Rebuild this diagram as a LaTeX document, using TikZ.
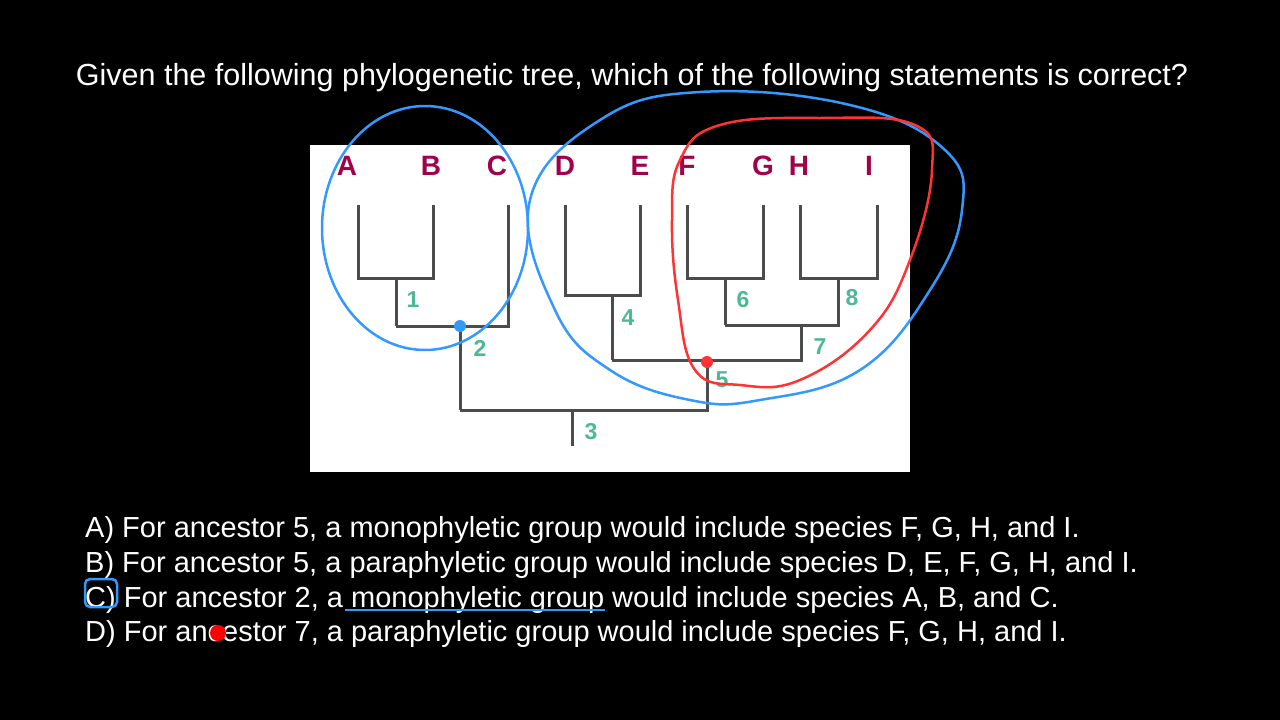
\documentclass[tikz,border=0pt]{standalone}
\usepackage{fontspec}
\setmainfont{Liberation Sans}
\definecolor{spc}{HTML}{A3004A}
\definecolor{ndc}{HTML}{4DB896}
\begin{document}
\begin{tikzpicture}[x=1pt,y=-1pt,
  br/.style={draw=gray!60!black,line width=3pt},
  sp/.style={text=spc,font=\fontsize{28}{30}\selectfont\bfseries},
  nd/.style={text=ndc,font=\fontsize{23}{24}\selectfont\bfseries},
  txt/.style={text=white,anchor=west,font=\fontsize{29}{32}\selectfont,inner sep=0},
  blu/.style={draw=blue!50!cyan!80!white,line width=2.5pt},
  rd/.style={draw=red!80!white,line width=2.5pt}]
\fill[black] (0,0) rectangle (1280,720);
\useasboundingbox (0,0) rectangle (1280,720);
\fill[white] (310,145) rectangle (910,472);
\node[text=white,font=\fontsize{30.5}{32}\selectfont] (title) at (632,78) {Given the following phylogenetic tree, which of the following statements is correct?};
\foreach \n/\x in {A/347,B/431,C/497,D/565,E/640,F/687,G/763,H/799,I/869}
  \node[sp] (s\n) at (\x,166) {\n};
\draw[br] (358,205)--(358,278)--(433,278)--(433,205);
\draw[br] (396,278)--(396,326);
\draw[br] (508,205)--(508,326)--(396,326);
\draw[br] (460,326)--(460,410);
\draw[br] (565,205)--(565,295)--(640,295)--(640,205);
\draw[br] (612,295)--(612,360);
\draw[br] (687,205)--(687,278)--(763,278)--(763,205);
\draw[br] (725,278)--(725,325);
\draw[br] (800,205)--(800,278)--(877,278)--(877,205);
\draw[br] (838,278)--(838,325)--(725,325);
\draw[br] (801,325)--(801,360)--(612,360);
\draw[br] (707,360)--(707,410)--(460,410);
\draw[br] (572,410)--(572,446);
\foreach \l/\x/\y in {1/413/300,2/480/348,4/628/318,6/743/300,8/852/298,7/820/347,5/722/380,3/591/432}
  \node[nd] (n\l) at (\x,\y) {\l};
\draw[blu] (425,228) ellipse [x radius=103, y radius=122];
\draw[blu] plot[smooth cycle,tension=0.7] coordinates {(530,200) (600,120) (700,92) (850,105) (945,150) (962,210) (930,290) (860,370) (760,400) (690,400) (610,370) (555,310)};
\draw[rd] plot[smooth cycle,tension=0.7] coordinates {(680,160) (720,125) (820,118) (915,125) (932,170) (910,260) (870,330) (800,380) (740,385) (695,370) (678,300) (672,220)};
\fill[blue!50!cyan!80!white] (460,326) circle (6);
\fill[red!80!white] (707,362) circle (6);
\node[txt] (oA) at (85,530) {A) For ancestor 5, a monophyletic group would include species F, G, H, and I.};
\node[txt] (oB) at (85,565) {B) For ancestor 5, a paraphyletic group would include species D, E, F, G, H, and I.};
\node[txt] (oC) at (85,600) {C) For ancestor 2, a monophyletic group would include species A, B, and C.};
\node[txt] (oD) at (85,634) {D) For ancestor 7, a paraphyletic group would include species F, G, H, and I.};
\draw[blu,rounded corners=5pt] (85,579) rectangle (117,607);
\draw[blu] (345,610) -- (605,610);
\fill[red] (218,633) circle (8);
\end{tikzpicture}
\end{document}
